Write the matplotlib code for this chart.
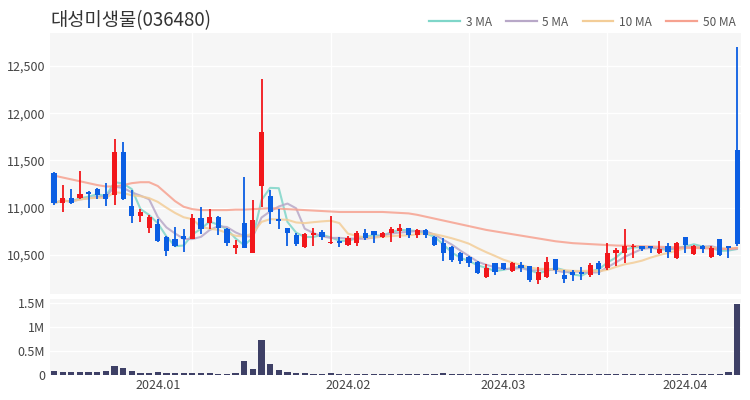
import matplotlib.pyplot as plt
import pandas as pd
from matplotlib.lines import Line2D

plt.rcParams['font.family'] = ['Noto Sans CJK KR', 'DejaVu Sans']

title = '대성미생물(036480)'

opens = [11370, 11050, 11100, 11100, 11170, 11200, 11140, 11130, 11590, 11020,
         10910, 10790, 10830, 10690, 10670, 10700, 10670, 10890, 10840, 10900,
         10780, 10575, 10840, 10520, 11230, 11120, 10880, 10790, 10710, 10580,
         10710, 10740, 10625, 10650, 10610, 10630, 10730, 10750, 10690, 10730,
         10750, 10790, 10710, 10760, 10690, 10630, 10580, 10520, 10480, 10430,
         10270, 10410, 10410, 10330, 10390, 10380, 10240, 10270, 10460, 10290,
         10320, 10320, 10290, 10410, 10360, 10520, 10520, 10580, 10600, 10590,
         10520, 10600, 10470, 10690, 10510, 10600, 10480, 10670, 10590, 11610]
highs = [11380, 11240, 11200, 11390, 11180, 11210, 11260, 11730, 11700, 11190,
         10990, 10920, 10880, 10700, 10800, 10780, 10930, 11010, 10990, 10910,
         10790, 10660, 11320, 11080, 12360, 11190, 10990, 10790, 10730, 10730,
         10790, 10760, 10910, 10690, 10700, 10750, 10770, 10750, 10740, 10800,
         10830, 10790, 10770, 10770, 10700, 10680, 10590, 10530, 10490, 10440,
         10400, 10420, 10420, 10430, 10430, 10380, 10370, 10480, 10460, 10340,
         10340, 10370, 10420, 10440, 10630, 10570, 10780, 10620, 10600, 10590,
         10650, 10630, 10640, 10690, 10610, 10610, 10600, 10670, 10590, 12700]
lows = [11030, 10950, 11040, 11090, 11000, 11090, 11020, 11030, 11080, 10840,
        10850, 10730, 10640, 10490, 10580, 10530, 10670, 10720, 10770, 10710,
        10600, 10510, 10570, 10520, 11010, 10830, 10770, 10600, 10590, 10570,
        10600, 10660, 10620, 10580, 10590, 10600, 10660, 10630, 10680, 10640,
        10680, 10680, 10680, 10680, 10600, 10440, 10430, 10400, 10370, 10300,
        10260, 10290, 10340, 10320, 10320, 10210, 10190, 10260, 10300, 10200,
        10220, 10230, 10270, 10290, 10340, 10380, 10420, 10470, 10540, 10520,
        10510, 10470, 10460, 10520, 10500, 10520, 10470, 10490, 10470, 10600]
closes = [11050, 11100, 11050, 11150, 11150, 11130, 11090, 11590, 11090, 10910,
          10960, 10900, 10650, 10540, 10590, 10670, 10890, 10770, 10900, 10790,
          10630, 10605, 10575, 10870, 11800, 10960, 10860, 10730, 10620, 10720,
          10730, 10690, 10640, 10625, 10680, 10730, 10680, 10710, 10730, 10780,
          10790, 10710, 10760, 10710, 10610, 10520, 10450, 10440, 10420, 10310,
          10360, 10320, 10350, 10420, 10360, 10240, 10320, 10430, 10340, 10250,
          10290, 10300, 10390, 10350, 10520, 10550, 10590, 10600, 10560, 10570,
          10560, 10530, 10630, 10610, 10600, 10560, 10570, 10500, 10570, 10620]
# volume in millions of shares
volumes = [0.09, 0.07, 0.07, 0.07, 0.06, 0.06, 0.08, 0.19, 0.15, 0.08,
           0.05, 0.05, 0.06, 0.04, 0.04, 0.04, 0.04, 0.04, 0.04, 0.03,
           0.03, 0.04, 0.29, 0.12, 0.72, 0.23, 0.10, 0.07, 0.04, 0.04,
           0.03, 0.03, 0.04, 0.03, 0.03, 0.03, 0.03, 0.02, 0.03, 0.03,
           0.03, 0.02, 0.03, 0.02, 0.03, 0.05, 0.03, 0.02, 0.02, 0.02,
           0.02, 0.02, 0.02, 0.02, 0.02, 0.02, 0.02, 0.02, 0.02, 0.02,
           0.02, 0.02, 0.02, 0.02, 0.03, 0.02, 0.03, 0.02, 0.02, 0.02,
           0.02, 0.02, 0.02, 0.02, 0.02, 0.02, 0.02, 0.02, 0.07, 1.47]
ma50 = [11340, 11320, 11300, 11280, 11260, 11240, 11225, 11225, 11240, 11260,
        11270, 11270, 11230, 11150, 11070, 11010, 10985, 10975, 10975, 10975,
        10975, 10980, 10980, 10985, 10990, 10995, 10990, 10985, 10980, 10975,
        10970, 10965, 10960, 10955, 10955, 10955, 10955, 10955, 10955, 10950,
        10945, 10940, 10925, 10905, 10885, 10865, 10845, 10825, 10805, 10785,
        10765, 10750, 10735, 10720, 10705, 10690, 10675, 10660, 10645, 10635,
        10625, 10620, 10615, 10610, 10605, 10600, 10598, 10595, 10592, 10590,
        10587, 10584, 10580, 10577, 10574, 10571, 10568, 10565, 10562, 10575]

month_labels = ['2024.01', '2024.02', '2024.03', '2024.04']
month_pos = [12, 34, 52, 73]
price_ticks = [10500, 11000, 11500, 12000, 12500]
vol_ticks = [0, 0.5, 1.0, 1.5]
vol_labels = ['0', '0.5M', '1M', '1.5M']

x = list(range(len(closes)))
close_s = pd.Series(closes)
ma3 = close_s.rolling(3, min_periods=1).mean()
ma5 = close_s.rolling(5, min_periods=1).mean()
ma10 = close_s.rolling(10, min_periods=1).mean()

up_c = '#f2171b'
down_c = '#0b5ee3'
bg = '#f6f6f6'
ma_colors = ['#7fd6c9', '#b8a8c8', '#f3cd98', '#f6a290']

fig = plt.figure(figsize=(7.5, 4), dpi=100)
ax = fig.add_axes([50 / 750, 1 - 294 / 400, 691 / 750, 261 / 400])
axv = fig.add_axes([50 / 750, 1 - 375 / 400, 691 / 750, 76 / 400])

for a in (ax, axv):
    a.set_facecolor(bg)
    for s in a.spines.values():
        s.set_visible(False)
    a.tick_params(length=0, labelsize=9, colors='#444444')
    a.set_xlim(-0.46, 79.45)
    for g in [16, 32, 48, 64]:
        a.axvline(g, color='white', lw=1, zorder=0)

for t in price_ticks:
    ax.axhline(t, color='white', lw=1, zorder=0)
for t in vol_ticks:
    axv.axhline(t, color='white', lw=1, zorder=0)

# moving averages
for vals, col in zip([ma3, ma5, ma10, ma50], ma_colors):
    ax.plot(x, vals, color=col, lw=1.5, alpha=0.85, zorder=1,
            solid_capstyle='round')

# candles
colors = [up_c if c >= o else down_c for o, c in zip(opens, closes)]
ax.vlines(x, lows, highs, colors=colors, lw=1.3, zorder=2)
bottoms = [min(o, c) for o, c in zip(opens, closes)]
heights = [max(abs(c - o), 12) for o, c in zip(opens, closes)]
ax.bar(x, heights, bottom=bottoms, width=0.6, color=colors, zorder=3)

ax.set_ylim(10087, 12849)
ax.set_yticks(price_ticks)
ax.set_yticklabels([f'{t:,}' for t in price_ticks])
ax.set_xticks([])

axv.bar(x, volumes, width=0.72, color='#3e4066', zorder=2)
axv.set_ylim(0, 1.58)
axv.set_yticks(vol_ticks)
axv.set_yticklabels(vol_labels)
axv.set_xticks(month_pos)
axv.set_xticklabels(month_labels)
axv.tick_params(axis='x', pad=3)

fig.text(50 / 750, 1 - 21 / 400, title, fontsize=13.5, color='#333333',
         va='center', ha='left')

handles = [Line2D([], [], color=c, lw=1.6) for c in ma_colors]
fig.legend(handles, ['3 MA', '5 MA', '10 MA', '50 MA'], loc='center right',
           bbox_to_anchor=(0.995, 1 - 22 / 400), ncol=4, frameon=False,
           fontsize=8.5, handlelength=2.6, columnspacing=1.2, handletextpad=0.5,
           labelcolor='#555555')

fig.savefig('out.png', facecolor='white')
